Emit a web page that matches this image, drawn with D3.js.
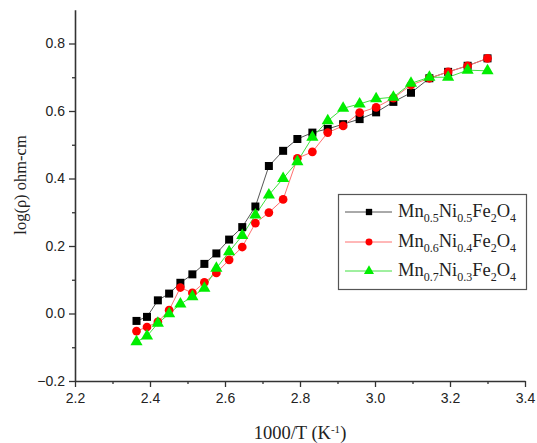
<!DOCTYPE html>
<html><head><meta charset="utf-8">
<script src="https://cdn.jsdelivr.net/npm/d3@7"></script>
<style>body{margin:0;background:#fff}svg{display:block}</style>
</head><body><svg id="c" width="537" height="443"></svg>
<script>
const xValues = [2.364,2.392,2.421,2.451,2.481,2.513,2.545,2.577,2.611,2.646,2.681,2.717,2.755,2.793,2.833,2.874,2.915,2.959,3.003,3.049,3.096,3.145,3.195,3.247,3.300];
const mn05 = [-0.022,-0.010,0.039,0.059,0.091,0.116,0.147,0.178,0.219,0.256,0.317,0.437,0.482,0.517,0.536,0.547,0.561,0.576,0.596,0.627,0.654,0.697,0.716,0.734,0.756];
const mn06 = [-0.052,-0.040,-0.025,0.010,0.077,0.061,0.092,0.120,0.159,0.197,0.268,0.299,0.338,0.460,0.479,0.536,0.556,0.595,0.611,0.638,0.677,0.697,0.716,0.734,0.756];
const mn07 = [-0.084,-0.067,-0.029,-0.001,0.028,0.050,0.075,0.134,0.183,0.231,0.292,0.351,0.400,0.450,0.522,0.571,0.608,0.621,0.636,0.641,0.682,0.700,0.700,0.721,0.719];
const seriesNames = [["Mn","0.5","Ni","0.5","Fe","2","O","4"],["Mn","0.6","Ni","0.4","Fe","2","O","4"],["Mn","0.7","Ni","0.3","Fe","2","O","4"]];
const xMajorTicks = [2.2,2.4,2.6,2.8,3.0,3.2,3.4];
const xMinorTicks = [2.3,2.5,2.7,2.9,3.1,3.3];
const yMajorTicks = [-0.2,0.0,0.2,0.4,0.6,0.8];
const yMinorTicks = [-0.1,0.1,0.3,0.5,0.7];
const xTitle = "1000/T (K";
const yTitle = "log(ρ) ohm-cm";

const svg = d3.select("#c");
const x = d3.scaleLinear().domain([2.2,3.4]).range([75,525]);
const y = d3.scaleLinear().domain([-0.2,0.9]).range([381,9.75]);

const axCol = "#333";
const gx = svg.append("g").attr("transform","translate(0,381)");
gx.call(d3.axisBottom(x).tickValues(xMajorTicks).tickFormat(d3.format(".1f")).tickSize(6).tickSizeOuter(0));
gx.append("g").call(d3.axisBottom(x).tickValues(xMinorTicks).tickFormat("").tickSize(3).tickSizeOuter(0)).select(".domain").remove();
const gy = svg.append("g").attr("transform","translate(75,0)");
gy.call(d3.axisLeft(y).tickValues(yMajorTicks).tickFormat(d3.format(".1f")).tickSize(6).tickSizeOuter(0));
gy.append("g").call(d3.axisLeft(y).tickValues(yMinorTicks).tickFormat("").tickSize(3).tickSizeOuter(0)).select(".domain").remove();
svg.selectAll(".domain").attr("stroke",axCol).attr("stroke-width",1.6);
svg.selectAll(".tick line").attr("stroke",axCol).attr("stroke-width",1.3);
svg.selectAll(".tick text").attr("fill","#222").style("font-family","Liberation Sans, Arial, sans-serif").style("font-size","14px");
gx.selectAll(".tick text").attr("dy","0.95em");
gy.selectAll(".tick text").attr("dx","-1");

const xt = svg.append("text").attr("x",300).attr("y",439).attr("text-anchor","middle")
  .style("font-family","Liberation Serif, Times New Roman, serif").style("font-size","18.5px").attr("fill","#222");
xt.append("tspan").text(xTitle);
xt.append("tspan").text("-1").attr("baseline-shift","super").style("font-size","11px");
xt.append("tspan").text(")");
svg.append("text").attr("transform","translate(26,185) rotate(-90)").attr("text-anchor","middle")
  .style("font-family","Liberation Serif, Times New Roman, serif").style("font-size","16.5px").attr("fill","#222").text(yTitle);

const series = [
  {vals:mn05, color:"#000", line:"#555", shape:d3.symbolSquare, size:64, lsize:40},
  {vals:mn06, color:"#ff0000", line:"#ff7070", shape:d3.symbolCircle, size:60, lsize:38},
  {vals:mn07, color:"#00ee00", line:"#40e040", shape:d3.symbolTriangle, size:64, lsize:44}
];
const line = d3.line().x((d,i)=>x(xValues[i])).y(d=>y(d));
series.forEach(s=>{
  svg.append("path").attr("d",line(s.vals)).attr("fill","none").attr("stroke",s.line).attr("stroke-width",1);
});
series.forEach(s=>{
  svg.append("g").selectAll("path").data(s.vals).join("path")
    .attr("transform",(d,i)=>`translate(${x(xValues[i])},${y(d)})`)
    .attr("d",d3.symbol().type(s.shape).size(s.size)).attr("fill",s.color);
});

const lg = svg.append("g");
lg.append("rect").attr("x",338.5).attr("y",194.5).attr("width",188).attr("height",95)
  .attr("fill","#fff").attr("stroke","#555").attr("stroke-width",1.2);
const rowY = [212,242,271];
series.forEach((s,i)=>{
  lg.append("line").attr("x1",345).attr("x2",392).attr("y1",rowY[i]).attr("y2",rowY[i]).attr("stroke",s.line).attr("stroke-width",1);
  lg.append("path").attr("transform",`translate(369,${rowY[i]})`).attr("d",d3.symbol().type(s.shape).size(s.lsize)).attr("fill",s.color);
  const t = lg.append("text").attr("x",398).attr("y",rowY[i]+5).attr("fill","#222")
    .style("font-family","Liberation Serif, Times New Roman, serif").style("font-size","18.5px");
  seriesNames[i].forEach((p,j)=>{
    if(j%2===0) t.append("tspan").text(p).attr("dy", j>0 ? "-5" : null);
    else t.append("tspan").text(p).attr("dy","5").style("font-size","12px");
  });
});
</script></body></html>
